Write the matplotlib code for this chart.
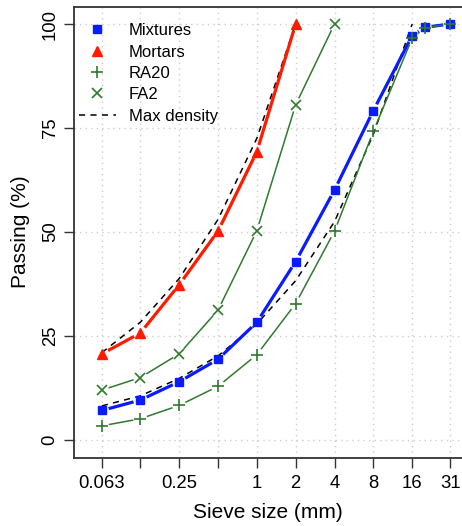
import numpy as np
import matplotlib
matplotlib.use("Agg")
import matplotlib.pyplot as plt
from matplotlib.lines import Line2D

plt.rcParams['font.family'] = ['Liberation Sans', 'DejaVu Sans']

# ---- data ----
sizes_all = [0.063, 0.125, 0.25, 0.5, 1, 2, 4, 8, 16, 20, 31.5]
mixtures = [7.1, 9.6, 14.0, 19.4, 28.3, 42.9, 60.1, 79.2, 97.2, 99.2, 100]
ra20 = [3.4, 5.1, 8.3, 12.9, 20.5, 32.8, 50.2, 74.2, 96.6, 99.1, 100]

sizes_mortar = [0.063, 0.125, 0.25, 0.5, 1, 2]
mortars = [20.7, 25.7, 37.3, 50.2, 69.3, 100]
maxdens_mortar = [21.0, 28.3, 38.8, 53.0, 72.5, 100]

sizes_fa2 = [0.063, 0.125, 0.25, 0.5, 1, 2, 4]
fa2 = [12.0, 15.0, 20.7, 31.2, 50.3, 80.6, 100]

sizes_maxmix = [0.063, 0.125, 0.25, 0.5, 1, 2, 4, 8, 16]
maxdens_mix = [8.2, 10.6, 14.8, 20.2, 27.9, 38.3, 52.5, 73.5, 100]

xtick_vals = [0.063, 0.125, 0.25, 0.5, 1, 2, 4, 8, 16, 31.5]
xtick_labels = ["0.063", "", "0.25", "", "1", "2", "4", "8", "16", "31"]
ytick_vals = [0, 25, 50, 75, 100]

BLUE = "#0a1cff"
RED = "#ff1a00"
GREEN = "#2f7a2f"

W, H = 462, 526
fig = plt.figure(figsize=(W / 100, H / 100), dpi=100)
ax = fig.add_axes([74 / W, (H - 458) / H, 388 / W, 451 / H])
ax.set_xscale('log')
ax.set_xlim(0.0383, 38.9)
ax.set_ylim(-4.33, 104.09)

ax.set_xticks(xtick_vals)
ax.set_xticklabels(xtick_labels, fontsize=13.3)
ax.xaxis.set_minor_locator(matplotlib.ticker.NullLocator())
ax.set_yticks(ytick_vals)
ax.set_yticklabels([str(v) for v in ytick_vals], fontsize=13.3, rotation=90, va='center')
ax.tick_params(axis='both', direction='out', length=7, width=1.0, color='#333333')
ax.tick_params(axis='x', pad=5)
ax.tick_params(axis='y', pad=4)
ax.spines['right'].set_visible(False)
for s in ['left', 'top', 'bottom']:
    ax.spines[s].set_linewidth(1.3)
    ax.spines[s].set_color('#333333')

ax.grid(True, which='major', color='#cccccc', linestyle=(0, (1, 3)), linewidth=1.0)
ax.set_axisbelow(True)


def gapped(x, y, gap_px, **kw):
    pts = ax.transData.transform(np.column_stack([x, y]))
    inv = ax.transData.inverted()
    for p0, p1 in zip(pts[:-1], pts[1:]):
        d = p1 - p0
        L = np.hypot(*d)
        if L <= 2 * gap_px:
            continue
        u = d / L
        a = inv.transform(p0 + u * gap_px)
        b = inv.transform(p1 - u * gap_px)
        ax.plot([a[0], b[0]], [a[1], b[1]], solid_capstyle='butt', **kw)


# max density dashed lines
dash = (0, (4, 3.5))
ax.plot(sizes_maxmix, maxdens_mix, color='black', lw=1.1, linestyle=dash, zorder=2)
ax.plot(sizes_mortar, maxdens_mortar, color='black', lw=1.1, linestyle=dash, zorder=2)

# mixtures
gapped(sizes_all, mixtures, 7, color=BLUE, lw=2.3, zorder=3)
ax.plot(sizes_all, mixtures, linestyle='none', marker='s', ms=6, color=BLUE, zorder=4)
# mortars
gapped(sizes_mortar, mortars, 7, color=RED, lw=2.3, zorder=3)
ax.plot(sizes_mortar, mortars, linestyle='none', marker='^', ms=7.5, color=RED, zorder=4)
# RA20
gapped(sizes_all, ra20, 7, color=GREEN, lw=1.1, zorder=3)
ax.plot(sizes_all, ra20, linestyle='none', marker='+', ms=9, mew=1.2, color=GREEN, zorder=5)
# FA2
gapped(sizes_fa2, fa2, 7, color=GREEN, lw=1.1, zorder=3)
ax.plot(sizes_fa2, fa2, linestyle='none', marker='x', ms=7, mew=1.2, color=GREEN, zorder=5)

handles = [
    Line2D([], [], linestyle='none', marker='s', ms=6, color=BLUE),
    Line2D([], [], linestyle='none', marker='^', ms=7, color=RED),
    Line2D([], [], linestyle='none', marker='+', ms=9, mew=1.2, color=GREEN),
    Line2D([], [], linestyle='none', marker='x', ms=7, mew=1.2, color=GREEN),
    Line2D([], [], color='black', lw=1.1, linestyle=dash),
]
labels = ["Mixtures", "Mortars", "RA20", "FA2", "Max density"]
ax.legend(handles, labels, loc='upper left', bbox_to_anchor=(5 / 388, 0.964),
          frameon=False, fontsize=12, numpoints=1, handlelength=2.2,
          handletextpad=0.8, labelspacing=0.38, borderpad=0, borderaxespad=0)

fig.text(268 / W, 1 - 513 / H, "Sieve size (mm)", fontsize=15, ha='center', va='center')
fig.text(21 / W, 1 - 232 / H, "Passing (%)", fontsize=15, ha='center', va='center', rotation=90)

fig.savefig("out.png", dpi=100)
